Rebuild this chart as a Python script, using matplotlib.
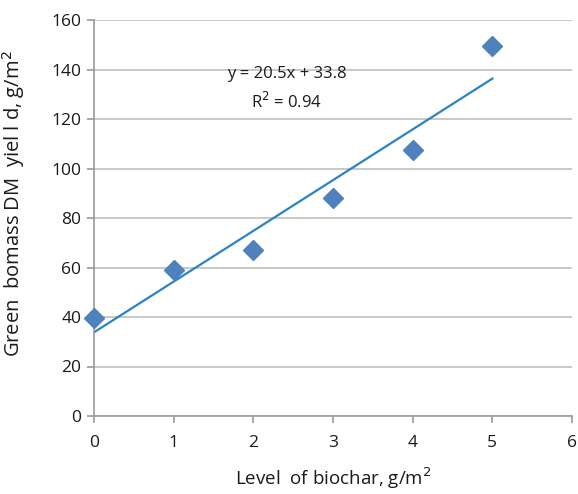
import matplotlib
matplotlib.use("Agg")
import matplotlib.pyplot as plt
import numpy as np

x_vals = [0, 1, 2, 3, 4, 5]
y_vals = [39.5, 59, 67, 88, 107.5, 149.5]
slope = 20.5
intercept = 33.8
x_ticks = [0, 1, 2, 3, 4, 5, 6]
y_ticks = [0, 20, 40, 60, 80, 100, 120, 140, 160]

plt.rcParams['font.family'] = ['Open Sans', 'DejaVu Sans']

fig = plt.figure(figsize=(5.78, 4.94), dpi=100)
ax = fig.add_axes([94/578, 1-416/494, (572-94)/578, (416-20)/494])

xs = np.array([x_vals[0], x_vals[-1]])
ax.plot(xs, slope*xs + intercept, color='#2B83C6', lw=1.6, zorder=2)
ax.plot(x_vals, y_vals, linestyle='none', marker='D', markersize=10,
        color='#4F81BD', zorder=3, clip_on=False)

ax.set_xlim(0, 6)
ax.set_ylim(0, 160)
ax.set_xticks(x_ticks)
ax.set_yticks(y_ticks)
ax.grid(axis='y', color='#BFBFBF', lw=1.2)
ax.set_axisbelow(True)
for s in ['top', 'right']:
    ax.spines[s].set_visible(False)
for s in ['left', 'bottom']:
    ax.spines[s].set_color('#999999')
    ax.spines[s].set_linewidth(1.2)
ax.tick_params(axis='both', direction='out', length=5, color='#999999',
               labelsize=12.5, labelcolor='#1a1a1a', width=1.2)
ax.tick_params(axis='x', pad=9)
ax.tick_params(axis='y', pad=4)

ax.set_xlabel('Level  of biochar, g/m$^2$', fontsize=13.5, color='#1a1a1a', labelpad=10)
ax.set_ylabel('Green  bomass DM  yiel l d, g/m$^2$', fontsize=14.5, color='#1a1a1a')
ax.yaxis.set_label_coords(-0.14, 0.535)

ax.text(2.42, 138, 'y = 20.5x + 33.8', ha='center', va='center', fontsize=12, color='#1a1a1a')
ax.text(2.42, 127, 'R$^2$ = 0.94', ha='center', va='center', fontsize=12, color='#1a1a1a')

fig.savefig('out.png', dpi=100)
